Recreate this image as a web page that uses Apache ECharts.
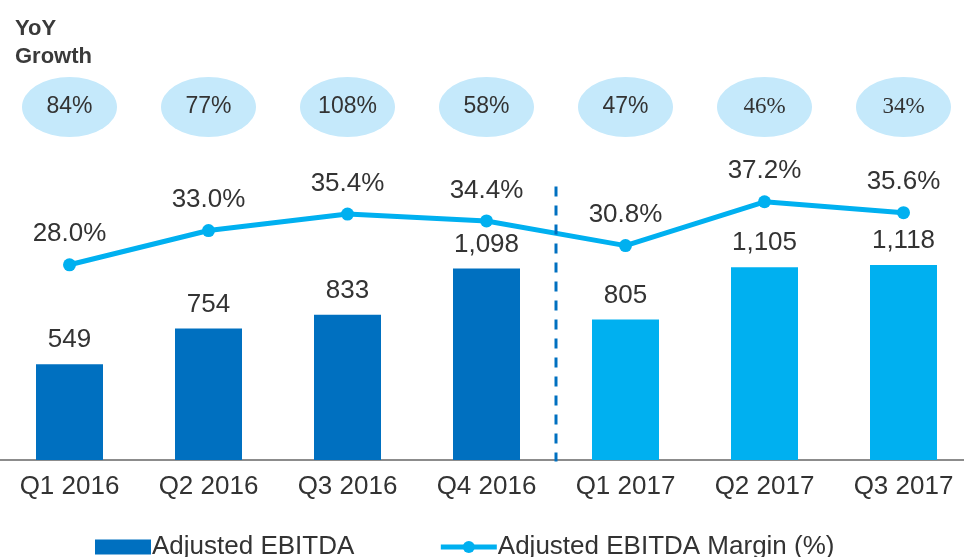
<!DOCTYPE html>
<html><head><meta charset="utf-8">
<script src="https://cdn.jsdelivr.net/npm/echarts@6/dist/echarts.min.js"></script>
<style>html,body{margin:0;padding:0;background:#fff;overflow:hidden}#c{width:973px;height:557px}</style>
</head><body><div id="c"></div>
<script>
var categories = ['Q1 2016','Q2 2016','Q3 2016','Q4 2016','Q1 2017','Q2 2017','Q3 2017'];
var ebitda = [549, 754, 833, 1098, 805, 1105, 1118];
var margin = [28.0, 33.0, 35.4, 34.4, 30.8, 37.2, 35.6];
var yoyGrowth = ['84%','77%','108%','58%','47%','46%','34%'];
var yoySerif = [false,false,false,false,false,true,true];
var yearOf = ['2016','2016','2016','2016','2017','2017','2017'];
var dividerPos = 3.5;

var FONT = '"Liberation Sans", Arial, sans-serif';
var SERIF = '"Liberation Serif", "Times New Roman", serif';
var colors = {'2016':'#0070c0','2017':'#00b0f0'};

var chart = echarts.init(document.getElementById('c'), null, {renderer:'canvas'});
chart.setOption({
  animation:false,
  textStyle:{fontFamily:FONT},
  title:{text:'YoY\nGrowth', left:10, top:10,
    textStyle:{fontFamily:FONT, fontSize:22, fontWeight:'bold', color:'#3a3a3a', lineHeight:28}},
  legend:{
    top:529, left:90, itemGap:84, itemWidth:56, itemHeight:15,
    textStyle:{fontFamily:FONT, fontSize:26, color:'#333', padding:[0,0,0,-4]},
    data:[{name:'Adjusted EBITDA', icon:'rect', itemStyle:{color:'#0070c0'}},
          {name:'Adjusted EBITDA Margin (%)', lineStyle:{width:5, color:'#00b0f0'}}]
  },
  grid:[
    {left:0, right:0, top:111, bottom:97},
    {left:0, right:0, top:69, height:76}
  ],
  xAxis:[
    {type:'category', gridIndex:0, data:categories,
      axisLine:{lineStyle:{color:'#8c8c8c', width:2}}, axisTick:{show:false},
      axisLabel:{fontFamily:FONT, fontSize:26, color:'#333', margin:14}},
    {type:'value', gridIndex:0, min:-0.5, max:6.5, show:false},
    {type:'category', gridIndex:1, data:categories, show:false}
  ],
  yAxis:[
    {type:'value', gridIndex:0, min:0, max:2000, show:false},
    {type:'value', gridIndex:0, min:-0.5, max:50.45, show:false},
    {type:'value', gridIndex:1, min:0, max:1, show:false}
  ],
  series:[
    {name:'Adjusted EBITDA', type:'bar', xAxisIndex:0, yAxisIndex:0, barWidth:67,
      data: ebitda.map(function(v,i){return {value:v, itemStyle:{color:colors[yearOf[i]]}};}),
      label:{show:true, position:'top', distance:11, fontFamily:FONT, fontSize:26, color:'#333',
        formatter:function(p){return p.value.toLocaleString('en-US');}},
      z:2},
    {name:'Adjusted EBITDA Margin (%)', type:'line', xAxisIndex:0, yAxisIndex:1,
      data: margin, symbol:'circle', symbolSize:13,
      lineStyle:{color:'#00b0f0', width:5}, itemStyle:{color:'#00b0f0'},
      label:{show:true, position:'top', distance:11, fontFamily:FONT, fontSize:26, color:'#333',
        formatter:function(p){return p.value.toFixed(1)+'%';}},
      z:3},
    {name:'divider', type:'line', xAxisIndex:1, yAxisIndex:0,
      data:[[dividerPos,-15],[dividerPos,1612]], symbol:'none', silent:true,
      lineStyle:{color:'#0070c0', width:3, type:[10,9]}, z:4},
    {name:'growth', type:'scatter', xAxisIndex:2, yAxisIndex:2,
      data: yoyGrowth.map(function(t,i){return {value:0.5, label:{fontFamily: yoySerif[i] ? SERIF : FONT}};}),
      symbol:'circle', symbolSize:[95,60], itemStyle:{color:'#c5e9fb', opacity:1}, silent:true,
      label:{show:true, position:'inside', fontFamily:FONT, fontSize:23, color:'#333',
        formatter:function(p){return yoyGrowth[p.dataIndex];}}}
  ]
});
</script></body></html>
